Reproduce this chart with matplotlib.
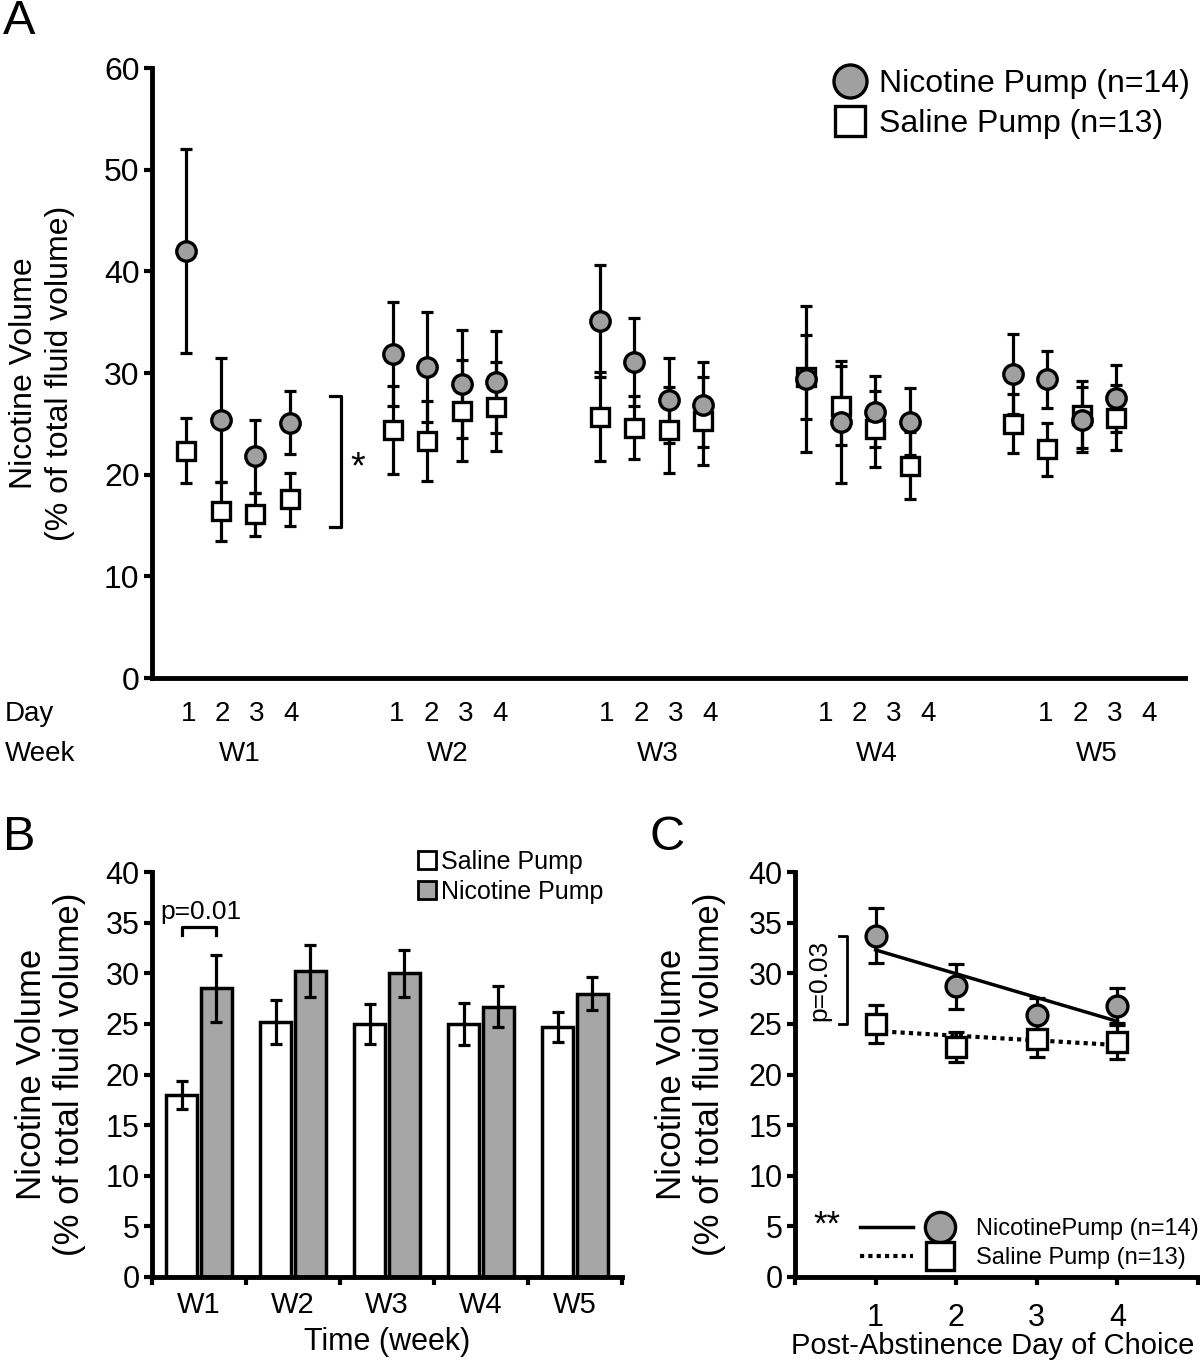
import matplotlib
matplotlib.use('Agg')
import numpy as np
import matplotlib.pyplot as plt
import matplotlib.transforms as mtransforms
from matplotlib.patches import Patch
from matplotlib.legend_handler import HandlerTuple

plt.rcParams['font.family'] = ['Liberation Sans', 'DejaVu Sans']

# ---- panel A: daily nicotine preference, 5 weeks x 4 days
weeks = ['W1', 'W2', 'W3', 'W4', 'W5']
days = [1, 2, 3, 4]
nic_a = [42.0, 25.4, 21.8, 25.1,
         31.9, 30.6, 28.9, 29.1,
         35.1, 31.1, 27.3, 26.9,
         29.4, 25.2, 26.2, 25.2,
         29.9, 29.4, 25.4, 27.5]
nic_a_err = [10.0, 6.1, 3.6, 3.1,
             5.1, 5.4, 5.3, 5.0,
             5.5, 4.3, 4.2, 4.2,
             7.2, 6.0, 3.5, 3.3,
             3.9, 2.8, 3.2, 3.3]
sal_a = [22.35, 16.4, 16.1, 17.6,
         24.4, 23.3, 26.3, 26.7,
         25.7, 24.6, 24.4, 25.3,
         29.6, 26.8, 24.5, 20.9,
         25.0, 22.5, 25.9, 25.6]
sal_a_err = [3.2, 2.9, 2.1, 2.6,
             4.3, 3.9, 5.0, 4.4,
             4.4, 3.1, 4.2, 4.3,
             4.1, 3.9, 3.7, 3.3,
             2.9, 2.6, 3.3, 3.2]

# ---- panel B: weekly means
sal_b = [18.0, 25.2, 25.0, 25.0, 24.7]
sal_b_err = [1.4, 2.2, 2.0, 2.1, 1.5]
nic_b = [28.5, 30.2, 30.0, 26.7, 28.0]
nic_b_err = [3.3, 2.55, 2.3, 2.0, 1.65]

# ---- panel C: post-abstinence days
days_c = [1, 2, 3, 4]
nic_c = [33.7, 28.7, 25.9, 26.8]
nic_c_err = [2.7, 2.2, 1.7, 1.7]
sal_c = [25.0, 22.7, 23.5, 23.2]
sal_c_err = [1.85, 1.45, 1.8, 1.7]

GREY = '#a0a0a0'
W, H = 1200, 1367

fig = plt.figure(figsize=(W / 100, H / 100), dpi=100)


def px_axes(left, top, right, bottom):
    return fig.add_axes([left / W, 1 - bottom / H, (right - left) / W, (bottom - top) / H])


def style(ax, size):
    for s in ['top', 'right']:
        ax.spines[s].set_visible(False)
    for s in ['left', 'bottom']:
        ax.spines[s].set_linewidth(3.5)
        ax.spines[s].set_capstyle('projecting')
    ax.tick_params(width=3, length=6, direction='out', labelsize=size, pad=3)


ax_a = px_axes(152, 68, 1185, 678)
ax_b = px_axes(152, 872, 622, 1277)
ax_c = px_axes(795, 872, 1198, 1277)

# ================= A =================
style(ax_a, 23)
xa = np.array([(w * 6) + d for w in range(len(weeks)) for d in days])
err_kw = dict(fmt='none', ecolor='k', elinewidth=2.3, capsize=4.5, capthick=2.3, zorder=2)
ax_a.errorbar(xa, sal_a, yerr=sal_a_err, **err_kw)
ax_a.errorbar(xa, nic_a, yerr=nic_a_err, **err_kw)
sal_line, = ax_a.plot(xa, sal_a, 's', ms=13, mfc='white', mec='k', mew=2.4, zorder=3)
nic_line, = ax_a.plot(xa, nic_a, 'o', ms=14, mfc=GREY, mec='k', mew=2.4, zorder=4)
ax_a.set_xlim(0, 30)
ax_a.set_ylim(0, 60)
ax_a.set_yticks(range(0, 61, 10))
ax_a.tick_params(axis='x', length=0, labelbottom=False)
ax_a.set_ylabel('Nicotine Volume\n(% of total fluid volume)', fontsize=23, linespacing=1.25)
ax_a.yaxis.set_label_coords(-0.075, 0.5)

ax_a.plot([5.17, 5.5, 5.5, 5.17], [27.7, 27.7, 14.9, 14.9], color='k', lw=2.3)
ax_a.text(5.97, 20.6, '*', fontsize=27, ha='center', va='center')

ax_a.legend([nic_line, sal_line], ['Nicotine Pump (n=14)', 'Saline Pump (n=13)'],
            loc='upper left', bbox_to_anchor=(0.66, 0.998), frameon=False, fontsize=23,
            markerscale=1.7, handlelength=1.0, handletextpad=0.4, labelspacing=0.32,
            borderpad=0, borderaxespad=0)

# day / week labels under the axis (they drift right of the data in the original)
label_shift = [0.05, 0.1, 0.2, 0.55, 0.95]
trans = mtransforms.blended_transform_factory(ax_a.transData, ax_a.transAxes)
for w, wk in enumerate(weeks):
    for d in days:
        ax_a.text(w * 6 + d + label_shift[w], -0.059, str(d), transform=trans,
                  ha='center', va='center', fontsize=20)
    ax_a.text(w * 6 + np.mean(days) + label_shift[w], -0.125, wk, transform=trans,
              ha='center', va='center', fontsize=20)
fig.text(5 / W, 1 - 714 / H, 'Day', fontsize=20, va='center')
fig.text(5 / W, 1 - 754 / H, 'Week', fontsize=20, va='center')

# ================= B =================
style(ax_b, 22)
xb = np.arange(1, len(weeks) + 1)
off, bw = 0.185, 0.33
bar_err = dict(ecolor='k', elinewidth=2.3, capsize=4.5, capthick=2.3)
ax_b.bar(xb - off, sal_b, bw, yerr=sal_b_err, color='white', edgecolor='k', lw=2.5,
         error_kw=bar_err, label='Saline Pump')
ax_b.bar(xb + off, nic_b, bw, yerr=nic_b_err, color='#a6a6a6', edgecolor='k', lw=2.5,
         error_kw=bar_err, label='Nicotine Pump')
ax_b.set_xlim(0.5, len(weeks) + 0.5)
ax_b.set_ylim(0, 40)
ax_b.set_yticks(range(0, 41, 5))
ax_b.set_xticks(np.arange(0.5, len(weeks) + 1, 1.0))
ax_b.set_xticklabels([])
ax_b.set_xticks(xb, minor=True)
ax_b.set_xticklabels(weeks, minor=True)
ax_b.tick_params(axis='x', which='minor', length=0, labelsize=21, pad=10)
ax_b.set_xlabel('Time (week)', fontsize=22, labelpad=6)
ax_b.set_ylabel('Nicotine Volume\n(% of total fluid volume)', fontsize=25, linespacing=1.2)
ax_b.yaxis.set_label_coords(-0.14, 0.5)

bx0, bx1 = xb[0] - off, xb[0] + off
ax_b.plot([bx0, bx0, bx1, bx1], [33.8, 34.6, 34.6, 33.8], color='k', lw=2.3)
ax_b.text(xb[0] + 0.02, 36.0, 'p=0.01', fontsize=19, ha='center', va='center')

ax_b.legend(handles=[Patch(facecolor='white', edgecolor='k', lw=2),
                     Patch(facecolor='#a6a6a6', edgecolor='k', lw=2)],
            labels=['Saline Pump', 'Nicotine Pump'], loc='upper left',
            bbox_to_anchor=(0.566, 1.055), frameon=False, fontsize=18,
            handlelength=0.7, handleheight=0.7, handletextpad=0.2,
            labelspacing=0.25, borderpad=0, borderaxespad=0)

# ================= C =================
style(ax_c, 22)
xc = np.array(days_c)
fit_n = np.polyfit(xc, nic_c, 1)
fit_s = np.polyfit(xc, sal_c, 1)
ln_n, = ax_c.plot(xc, np.polyval(fit_n, xc), color='k', lw=2.5, zorder=2)
ln_s, = ax_c.plot(xc, np.polyval(fit_s, xc), color='k', lw=3, ls=(0, (1, 1)), zorder=2)
err_c = dict(fmt='none', ecolor='k', elinewidth=2.3, capsize=5.5, capthick=2.3, zorder=3)
ax_c.errorbar(xc, nic_c, yerr=nic_c_err, **err_c)
ax_c.errorbar(xc, sal_c, yerr=sal_c_err, **err_c)
mk_s, = ax_c.plot(xc, sal_c, 's', ms=14, mfc='white', mec='k', mew=2.4, zorder=4)
mk_n, = ax_c.plot(xc, nic_c, 'o', ms=15, mfc=GREY, mec='k', mew=2.4, zorder=5)
ax_c.set_xlim(0, 5)
ax_c.set_ylim(0, 40)
ax_c.set_yticks(range(0, 41, 5))
ax_c.set_xticks(range(0, 6))
ax_c.set_xticklabels([''] + [str(d) for d in days_c] + [''])
ax_c.tick_params(axis='x', pad=13)
ax_c.set_xlabel('Post-Abstinence Day of Choice', fontsize=21, labelpad=1)
ax_c.xaxis.set_label_coords(0.49, -0.135)
ax_c.set_ylabel('Nicotine Volume\n(% of total fluid volume)', fontsize=25, linespacing=1.2)
ax_c.yaxis.set_label_coords(-0.17, 0.5)

ax_c.plot([0.54, 0.65, 0.65, 0.54], [nic_c[0], nic_c[0], sal_c[0], sal_c[0]], color='k', lw=2)
ax_c.text(0.3, 29.3, 'p=0.03', fontsize=19, rotation=90, ha='center', va='center')
ax_c.text(0.4, 5.1, '**', fontsize=25, ha='center', va='center')

ax_c.legend([(ln_n, mk_n), (ln_s, mk_s)], ['NicotinePump (n=14)', 'Saline Pump (n=13)'],
            handler_map={tuple: HandlerTuple(ndivide=2, pad=0)},
            loc='lower left', bbox_to_anchor=(0.161, 0.02), frameon=False, fontsize=17,
            markerscale=1.45, handlelength=4.5, handletextpad=0.4, labelspacing=0.3,
            borderpad=0, borderaxespad=0)

# panel letters
fig.text(3 / W, 1 - 22 / H, 'A', fontsize=35, va='center')
fig.text(3 / W, 1 - 838 / H, 'B', fontsize=35, va='center')
fig.text(650 / W, 1 - 838 / H, 'C', fontsize=35, va='center')

fig.savefig('out.png', dpi=100)
